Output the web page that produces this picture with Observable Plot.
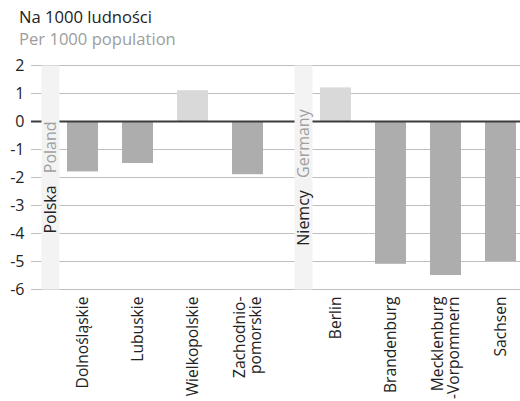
<!DOCTYPE html>
<html><head><meta charset="utf-8">
<script src="https://cdn.jsdelivr.net/npm/d3@7"></script>
<script src="https://cdn.jsdelivr.net/npm/@observablehq/plot@0.6"></script>
<style>
html,body{margin:0;padding:0;background:#fff;overflow:hidden;}
body{font-family:"Open Sans",sans-serif;width:520px;height:401px;}
#title{padding:6px 0 0 19px;font-size:16.6px;line-height:22px;height:22px;color:#222;}
#subtitle{padding-left:19px;font-size:16.6px;line-height:22px;height:22px;color:#9d9d9d;}
#chart svg{display:block;}
</style></head><body>
<div id="title">Na 1000 ludności</div>
<div id="subtitle">Per 1000 population</div>
<div id="chart"></div>
<script>
const countries = ["Polska", "Niemcy"];
const countriesEn = ["Poland", "Germany"];
const regionsPL = ["Dolnośląskie", "Lubuskie", "Wielkopolskie", "Zachodnio-\npomorskie"];
const valuesPL = [-1.8, -1.5, 1.1, -1.9];
const regionsDE = ["Berlin", "Brandenburg", "Mecklenburg\n-Vorpommern", "Sachsen"];
const valuesDE = [1.2, -5.1, -5.5, -5.0];
const yTicks = [2, 1, 0, -1, -2, -3, -4, -5, -6];

const rows = [
  ...regionsPL.map((r, i) => ({country: countries[0], idx: i, region: r, value: valuesPL[i]})),
  ...regionsDE.map((r, i) => ({country: countries[1], idx: i, region: r, value: valuesDE[i]}))
];
const labels = countries.map((c, i) => ({country: c, pl: c, en: countriesEn[i]}));

const plot = Plot.plot({
  width: 520, height: 351,
  marginLeft: 31, marginRight: 0, marginTop: 15, marginBottom: 112,
  style: {fontFamily: '"Open Sans", sans-serif', fontSize: "16px", color: "#222", background: "#fff"},
  fx: {domain: countries, paddingInner: 0.0748, paddingOuter: 0, align: 0, axis: null, label: null},
  x: {paddingInner: 0.44, paddingOuter: 0.3434, align: 0.947, axis: null, label: null},
  y: {domain: [-6, 2], ticks: yTicks, tickSize: 0, tickPadding: 7, tickFormat: d => String(d), label: null},
  marks: [
    Plot.ruleY(yTicks.filter(d => d !== 0), {stroke: "#bfbfbf", strokeWidth: 1.2, insetRight: -19}),
    Plot.barY(rows, {fx: "country", x: "idx", y: "value", filter: d => d.value < 0, fill: "#adadad"}),
    Plot.barY(rows, {fx: "country", x: "idx", y: "value", filter: d => d.value >= 0, fill: "#d9d9d9"}),
    Plot.ruleY([0], {stroke: "#3c3c3c", strokeWidth: 2, insetRight: -19}),
    Plot.frame({fill: "#f3f3f3", stroke: "none", insetLeft: 10, insetRight: 206}),
    Plot.text(labels, {fx: "country", text: d => d.pl + " " + d.en, frameAnchor: "left", textAnchor: "middle", lineAnchor: "middle", dx: 19.5, rotate: -90, fontSize: 16}),
    Plot.text(rows, {fx: "country", x: "idx", text: "region", frameAnchor: "bottom", dy: 7, rotate: -90, textAnchor: "end", lineAnchor: "middle", lineHeight: 1.05, fontSize: 15.6})
  ]
});
document.getElementById("chart").appendChild(plot);

const labelTexts = new Set(labels.map(d => d.pl + " " + d.en));
d3.select(plot).selectAll("text").each(function() {
  if (!labelTexts.has(this.textContent)) return;
  const parts = this.textContent.split(" ");
  const t = d3.select(this);
  t.text(null);
  t.append("tspan").attr("fill", "#222").text(parts[0]);
  t.append("tspan").attr("fill", "#a0a0a0").attr("dx", 8).text(" " + parts[1]);
});
</script>
</body></html>
